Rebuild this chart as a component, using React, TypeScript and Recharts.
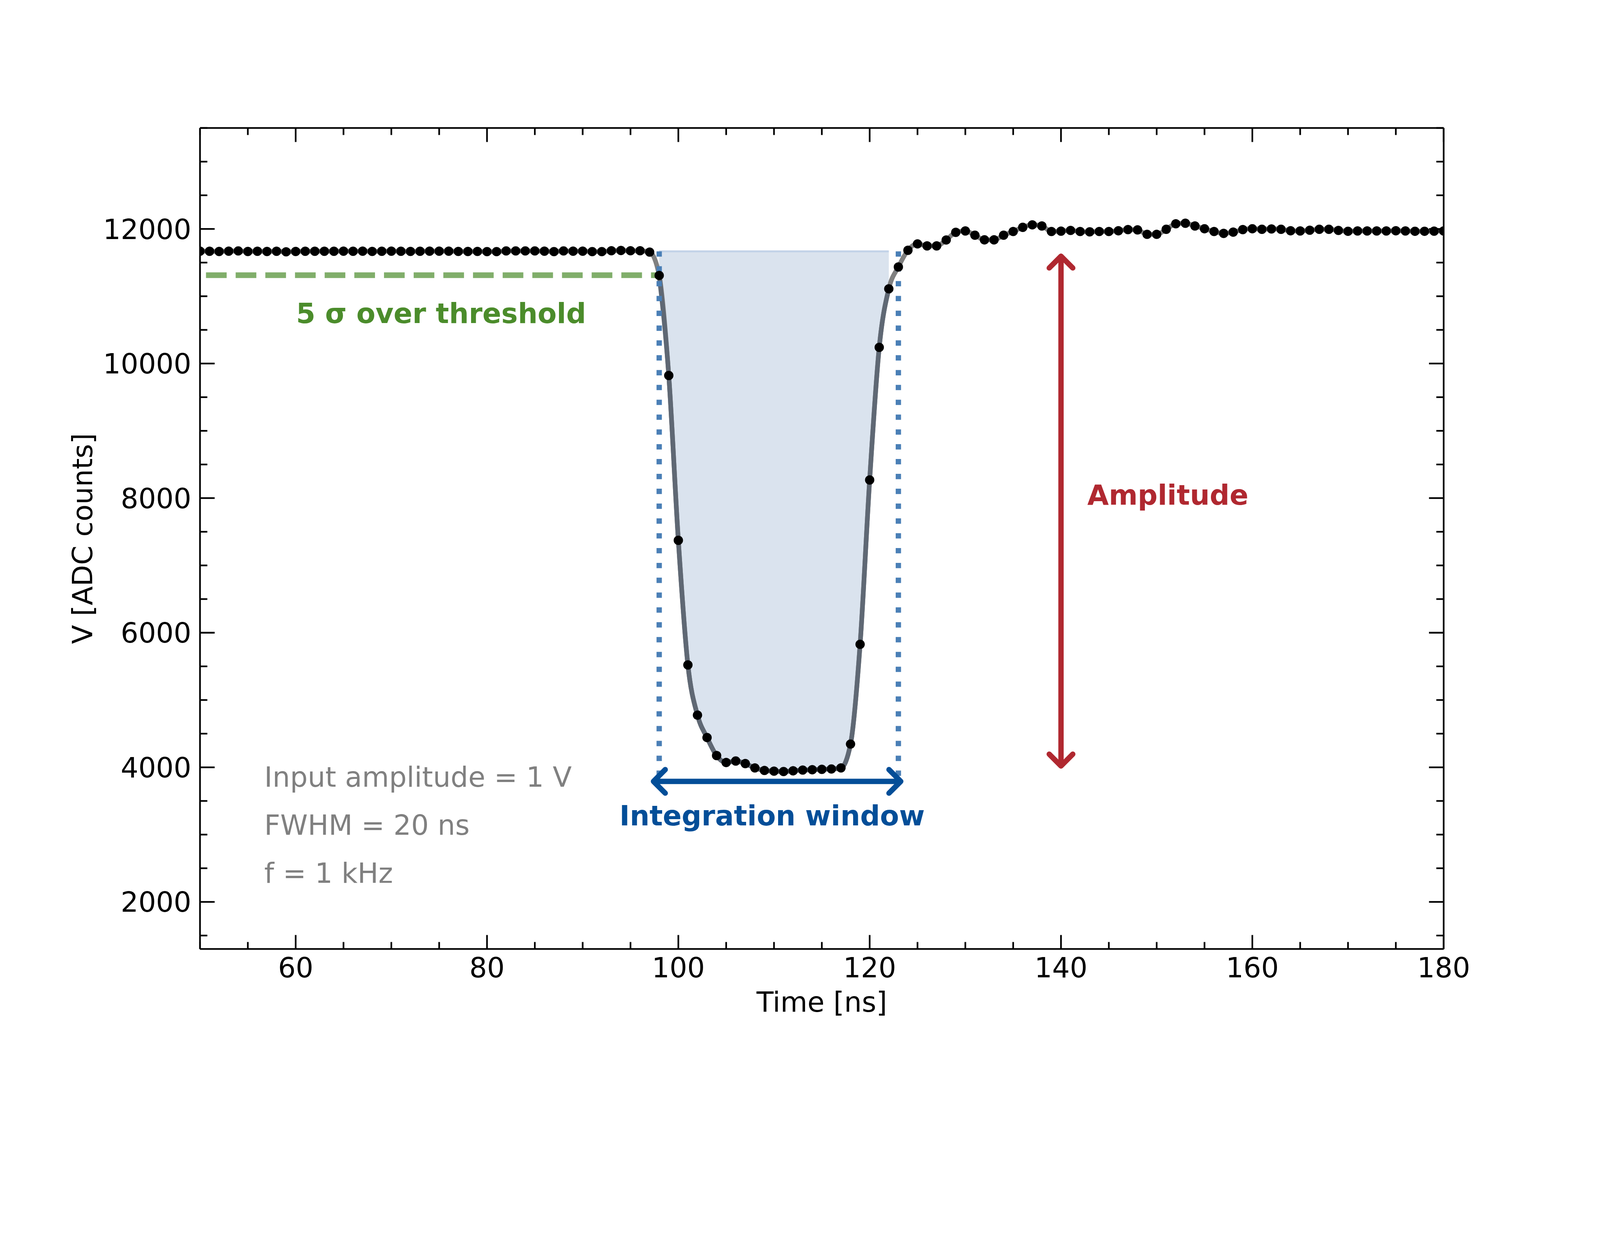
import {
  ComposedChart,
  Line,
  Area,
  XAxis,
  YAxis,
  ReferenceLine,
  ReferenceDot,
} from "recharts";

// sample times in ns (1 ns sampling)
const timeNs = [
  50, 51, 52, 53, 54, 55, 56, 57, 58, 59, 60, 61, 62, 63, 64, 65, 66, 67, 68, 69,
  70, 71, 72, 73, 74, 75, 76, 77, 78, 79, 80, 81, 82, 83, 84, 85, 86, 87, 88, 89,
  90, 91, 92, 93, 94, 95, 96, 97, 98, 99, 100, 101, 102, 103, 104, 105, 106, 107,
  108, 109, 110, 111, 112, 113, 114, 115, 116, 117, 118, 119, 120, 121, 122, 123,
  124, 125, 126, 127, 128, 129, 130, 131, 132, 133, 134, 135, 136, 137, 138, 139,
  140, 141, 142, 143, 144, 145, 146, 147, 148, 149, 150, 151, 152, 153, 154, 155,
  156, 157, 158, 159, 160, 161, 162, 163, 164, 165, 166, 167, 168, 169, 170, 171,
  172, 173, 174, 175, 176, 177, 178, 179, 180,
];

// ADC counts per sample
const adcCounts = [
  11670, 11668, 11665, 11670, 11673, 11665, 11668, 11665, 11668, 11660,
  11665, 11668, 11668, 11668, 11668, 11670, 11668, 11670, 11666, 11668,
  11670, 11668, 11666, 11668, 11670, 11670, 11670, 11666, 11665, 11666,
  11663, 11663, 11673, 11673, 11673, 11673, 11670, 11663, 11673, 11670,
  11670, 11663, 11663, 11676, 11680, 11676, 11676, 11656, 11309, 9822,
  7373, 5521, 4775, 4442, 4174, 4071, 4093, 4055, 3991, 3953,
  3943, 3937, 3948, 3959, 3964, 3970, 3975, 3991, 4345, 5827,
  8270, 10240, 11110, 11435, 11683, 11778, 11748, 11748, 11836, 11950,
  11970, 11907, 11838, 11838, 11907, 11962, 12024, 12061, 12044, 11962,
  11967, 11978, 11962, 11957, 11962, 11962, 11973, 11990, 11986, 11920,
  11920, 11995, 12077, 12085, 12044, 12003, 11962, 11934, 11953, 11990,
  12003, 11995, 12000, 11995, 11973, 11970, 11981, 11995, 11995, 11978,
  11965, 11970, 11970, 11970, 11970, 11973, 11970, 11965, 11965, 11967,
  11970,
];

const xMajorTicks = [60, 80, 100, 120, 140, 160, 180];
const xAllTicks = [
  50, 55, 60, 65, 70, 75, 80, 85, 90, 95, 100, 105, 110, 115, 120, 125, 130,
  135, 140, 145, 150, 155, 160, 165, 170, 175, 180,
];
const yMajorTicks = [2000, 4000, 6000, 8000, 10000, 12000];
const yAllTicks = [
  1500, 2000, 2500, 3000, 3500, 4000, 4500, 5000, 5500, 6000, 6500, 7000, 7500,
  8000, 8500, 9000, 9500, 10000, 10500, 11000, 11500, 12000, 12500, 13000,
  13500,
];

const baselineLevel = 11667;
const thresholdLevel = 11312;
const windowFill = [98, 122];
const windowEdges = [98, 123];
const windowArrow = [97.4, 123.25];
const windowArrowLevel = 3791;
const amplitudeX = 140;
const amplitudeRange = [4020, 11595];

const infoLines = ["Input amplitude = 1 V", "FWHM = 20 ns", "f = 1 kHz"];
const infoLevels = [3712, 3000, 2282];

const data = timeNs.map((t, i) => ({
  t,
  v: adcCounts[i],
  win: t >= windowFill[0] && t <= windowFill[1] ? adcCounts[i] : null,
}));

const W = 4800;
const H = 3200;
const FONT = "DejaVu Sans";
const FS = 83.3;
const TICK_W = 5;

const bottomTick = (p: any) => {
  const { x, y, payload } = p;
  const major = xMajorTicks.includes(payload.value);
  return (
    <g>
      <line x1={x} x2={x} y1={y} y2={y - (major ? 42 : 21)} stroke="#000" strokeWidth={TICK_W} />
      {major && (
        <text x={x} y={y + 85} textAnchor="middle" fontFamily={FONT} fontSize={FS} fill="#000">
          {payload.value}
        </text>
      )}
    </g>
  );
};

const topTick = (p: any) => {
  const { x, y, payload } = p;
  const major = xMajorTicks.includes(payload.value);
  return <line x1={x} x2={x} y1={y} y2={y + (major ? 42 : 21)} stroke="#000" strokeWidth={TICK_W} />;
};

const leftTick = (p: any) => {
  const { x, y, payload } = p;
  const major = yMajorTicks.includes(payload.value);
  return (
    <g>
      <line x1={x} x2={x + (major ? 44 : 22)} y1={y} y2={y} stroke="#000" strokeWidth={TICK_W} />
      {major && (
        <text x={x - 26} y={y + 30} textAnchor="end" fontFamily={FONT} fontSize={FS} fill="#000">
          {payload.value}
        </text>
      )}
    </g>
  );
};

const rightTick = (p: any) => {
  const { x, y, payload } = p;
  const major = yMajorTicks.includes(payload.value);
  return <line x1={x} x2={x - (major ? 44 : 22)} y1={y} y2={y} stroke="#000" strokeWidth={TICK_W} />;
};

const xTitle = (p: any) => {
  const vb = p.viewBox;
  return (
    <text x={vb.x + vb.width / 2} y={vb.y + 188} textAnchor="middle" fontFamily={FONT} fontSize={FS} fill="#000">
      Time [ns]
    </text>
  );
};

const yTitle = (p: any) => {
  const vb = p.viewBox;
  const cx = vb.x - 323;
  const cy = vb.y + vb.height / 2;
  return (
    <text
      x={cx}
      y={cy}
      transform={`rotate(-90 ${cx} ${cy})`}
      textAnchor="middle"
      fontFamily={FONT}
      fontSize={FS}
      fill="#000"
    >
      V [ADC counts]
    </text>
  );
};

const arrowShape = (color: string) => (p: any) => {
  const { x1, y1, x2, y2 } = p;
  const ang = Math.atan2(y2 - y1, x2 - x1);
  const L = 50;
  const a = Math.PI / 4;
  const head = (x: number, y: number, dir: number) =>
    `M ${x + L * Math.cos(dir + a)} ${y + L * Math.sin(dir + a)} L ${x} ${y} L ${x + L * Math.cos(dir - a)} ${y + L * Math.sin(dir - a)} `;
  return (
    <g>
      <line x1={x1} y1={y1} x2={x2} y2={y2} stroke={color} strokeWidth={16} />
      <path
        d={head(x1, y1, ang) + head(x2, y2, ang + Math.PI)}
        fill="none"
        stroke={color}
        strokeWidth={16}
        strokeLinecap="round"
        strokeLinejoin="round"
      />
    </g>
  );
};

const textShape =
  (text: string, color: string, bold: boolean, anchor: string) => (p: any) =>
    (
      <text
        x={p.cx}
        y={p.cy}
        textAnchor={anchor}
        fontFamily={FONT}
        fontSize={FS}
        fontWeight={bold ? "bold" : "normal"}
        fill={color}
      >
        {text}
      </text>
    );

export default function App() {
  // the window can be narrower than 4800, so scale the whole figure to fit
  const vw = typeof window !== "undefined" ? window.innerWidth : W;
  const vh = typeof window !== "undefined" ? window.innerHeight : H;
  const s = Math.min(1, vw / W, vh / H);
  return (
    <div style={{ width: W * s, height: H * s, overflow: "hidden", background: "#fff" }}>
      <style>{"body{margin:0;overflow:hidden}"}</style>
      <div style={{ width: W, height: H, transform: `scale(${s})`, transformOrigin: "0 0" }}>
        <ComposedChart
          width={W}
          height={H}
          data={data}
          margin={{ top: 383, right: 468, bottom: 352, left: 599 }}
        >
          <XAxis
            dataKey="t"
            type="number"
            domain={[50, 180]}
            allowDataOverflow
            ticks={xAllTicks}
            interval={0}
            height={1}
            tickSize={0}
            tickMargin={0}
            tickLine={false}
            tick={bottomTick}
            axisLine={{ stroke: "#000", strokeWidth: 5 }}
            label={xTitle}
          />
          <XAxis
            xAxisId="top"
            orientation="top"
            dataKey="t"
            type="number"
            domain={[50, 180]}
            allowDataOverflow
            ticks={xAllTicks}
            interval={0}
            height={1}
            tickSize={0}
            tickMargin={0}
            tickLine={false}
            tick={topTick}
            axisLine={{ stroke: "#000", strokeWidth: 5 }}
          />
          <YAxis
            type="number"
            domain={[1300, 13500]}
            allowDataOverflow
            ticks={yAllTicks}
            interval={0}
            width={1}
            tickSize={0}
            tickMargin={0}
            tickLine={false}
            tick={leftTick}
            axisLine={{ stroke: "#000", strokeWidth: 5 }}
            label={yTitle}
          />
          <YAxis
            yAxisId="right"
            orientation="right"
            type="number"
            domain={[1300, 13500]}
            allowDataOverflow
            ticks={yAllTicks}
            interval={0}
            width={1}
            tickSize={0}
            tickMargin={0}
            tickLine={false}
            tick={rightTick}
            axisLine={{ stroke: "#000", strokeWidth: 5 }}
          />

          <Area
            dataKey="win"
            type="monotone"
            baseValue={baselineLevel}
            fill="#dae3ee"
            fillOpacity={1}
            stroke="none"
            isAnimationActive={false}
            dot={false}
            activeDot={false}
          />
          <ReferenceLine
            segment={[
              { x: windowFill[0], y: baselineLevel },
              { x: windowFill[1], y: baselineLevel },
            ]}
            stroke="#c3d3e8"
            strokeWidth={6}
          />
          <ReferenceLine
            segment={[
              { x: 50, y: thresholdLevel },
              { x: windowEdges[0], y: thresholdLevel },
            ]}
            stroke="#80ae6a"
            strokeWidth={17}
            strokeDasharray="62 27"
            strokeDashoffset={71}
          />
          <Line
            dataKey="v"
            type="monotone"
            stroke="#808080"
            strokeWidth={14}
            dot={false}
            activeDot={false}
            isAnimationActive={false}
          />
          <Line
            dataKey="win"
            type="monotone"
            stroke="#5f6874"
            strokeWidth={14}
            dot={false}
            activeDot={false}
            isAnimationActive={false}
          />
          {windowEdges.map((e) => (
            <ReferenceLine
              key={e}
              segment={[
                { x: e, y: baselineLevel },
                { x: e, y: windowArrowLevel },
              ]}
              stroke="#4a7fb6"
              strokeWidth={16}
              strokeDasharray="16 28.5"
            />
          ))}
          <Line
            dataKey="v"
            stroke="none"
            dot={{ r: 14, fill: "#000", stroke: "none", strokeWidth: 0 }}
            activeDot={false}
            isAnimationActive={false}
          />
          <ReferenceLine
            segment={[
              { x: amplitudeX, y: amplitudeRange[1] },
              { x: amplitudeX, y: amplitudeRange[0] },
            ]}
            shape={arrowShape("#b02830")}
          />
          <ReferenceLine
            segment={[
              { x: windowArrow[0], y: windowArrowLevel },
              { x: windowArrow[1], y: windowArrowLevel },
            ]}
            shape={arrowShape("#034e98")}
          />

          <ReferenceDot x={75.2} y={10600} r={0} shape={textShape("5 σ over threshold", "#4b8c2b", true, "middle")} />
          <ReferenceDot x={142.75} y={7904} r={0} shape={textShape("Amplitude", "#b02830", true, "start")} />
          <ReferenceDot x={109.8} y={3138} r={0} shape={textShape("Integration window", "#034e98", true, "middle")} />
          {infoLines.map((t, i) => (
            <ReferenceDot key={t} x={56.72} y={infoLevels[i]} r={0} shape={textShape(t, "#808080", false, "start")} />
          ))}
        </ComposedChart>
      </div>
    </div>
  );
}
